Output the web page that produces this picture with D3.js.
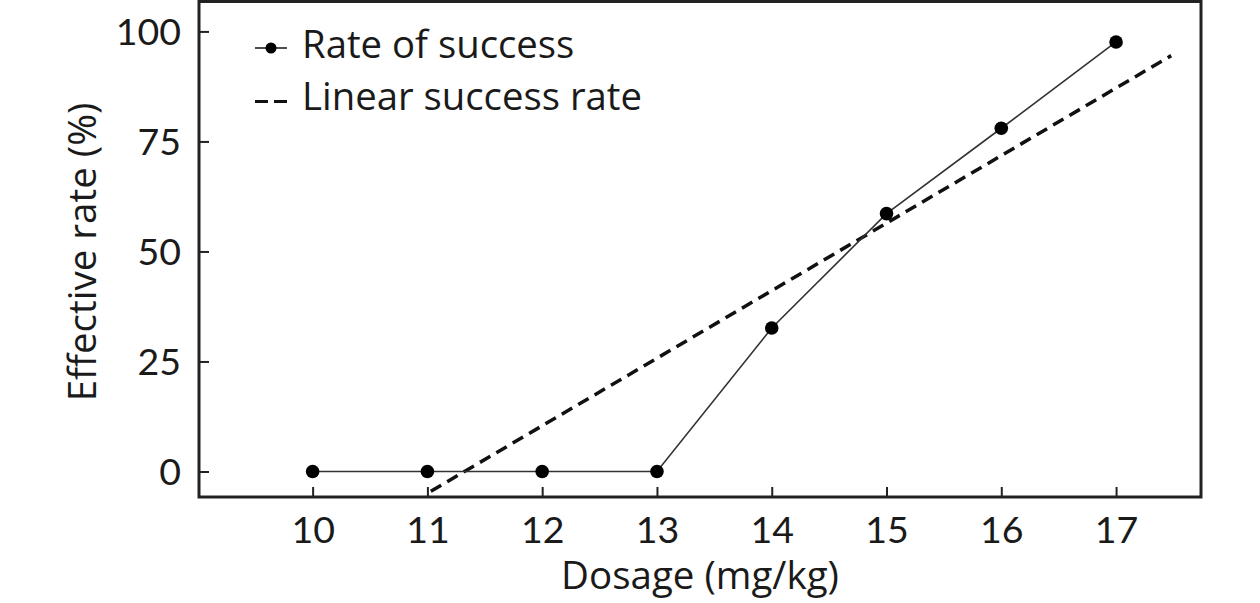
<!DOCTYPE html>
<html>
<head>
<meta charset="utf-8">
<script src="https://cdn.jsdelivr.net/npm/d3@7/dist/d3.min.js"></script>
<style>
  html, body { margin: 0; padding: 0; background: #fff; }
  svg { display: block; }
  text { font-family: "Open Sans", Lato, sans-serif; fill: #1a1a1a; }
  .tick text { font-family: Lato, "Open Sans", sans-serif; }
</style>
</head>
<body>
<svg id="chart" width="1260" height="603"></svg>
<script>
// ---- data ----
const dosage = [10, 11, 12, 13, 14, 15, 16, 17];
const successRate = [0, 0, 0, 0, 32.6, 58.6, 78.0, 97.6];
const linearDosage = [11.03, 17.48];
const linearRate = [-4.5, 94.5];
const xTicks = [10, 11, 12, 13, 14, 15, 16, 17];
const yTicks = [0, 25, 50, 75, 100];
const xDomain = [9.01, 17.74];
const yDomain = [-5.8, 106.8];
const legendLabels = ["Rate of success", "Linear success rate"];
const xTitle = "Dosage (mg/kg)";
const yTitle = "Effective rate (%)";

// ---- layout ----
const svg = d3.select("#chart");
const L = 199, R = 1201, T = 1.5, B = 497;
const x = d3.scaleLinear().domain(xDomain).range([L, R]);
const y = d3.scaleLinear().domain(yDomain).range([B, T]);
const ink = "#222";

// x axis
const xAxis = svg.append("g").attr("transform", `translate(0,${B})`)
  .call(d3.axisBottom(x).tickValues(xTicks).tickSize(-10).tickFormat(d3.format("d")));
xAxis.select(".domain").remove();
xAxis.selectAll(".tick line").attr("stroke", ink).attr("stroke-width", 2);
xAxis.selectAll(".tick text").attr("y", 46).attr("dy", 0)
  .style("font-size", "37.5px").attr("fill", "#1a1a1a");

// y axis
const yAxis = svg.append("g").attr("transform", `translate(${L},0)`)
  .call(d3.axisLeft(y).tickValues(yTicks).tickSize(-10).tickPadding(18).tickFormat(d3.format("d")));
yAxis.select(".domain").remove();
yAxis.selectAll(".tick line").attr("stroke", ink).attr("stroke-width", 2);
yAxis.selectAll(".tick text").attr("dy", "13.5px")
  .style("font-size", "37.5px").attr("fill", "#1a1a1a");

// frame
svg.append("rect").attr("x", L).attr("y", T).attr("width", R - L).attr("height", B - T)
  .attr("fill", "none").attr("stroke", ink).attr("stroke-width", 3);

// linear dashed line
const linData = linearDosage.map((d, i) => ({ x: d, y: linearRate[i] }));
const line = d3.line().x(d => x(d.x)).y(d => y(d.y));
svg.append("path").datum(linData).attr("d", line)
  .attr("fill", "none").attr("stroke", "#111").attr("stroke-width", 3.5)
  .attr("stroke-dasharray", "12,7");

// success line
const sData = dosage.map((d, i) => ({ x: d, y: successRate[i] }));
svg.append("path").datum(sData).attr("d", line)
  .attr("fill", "none").attr("stroke", "#333").attr("stroke-width", 1.6);
svg.selectAll("circle.pt").data(sData).enter().append("circle").attr("class", "pt")
  .attr("cx", d => x(d.x)).attr("cy", d => y(d.y)).attr("r", 6.8).attr("fill", "#000");

// legend
const lg = svg.append("g");
lg.append("line").attr("x1", 255).attr("x2", 287).attr("y1", 48).attr("y2", 48)
  .attr("stroke", "#222").attr("stroke-width", 1.6);
lg.append("circle").attr("cx", 271).attr("cy", 48).attr("r", 5.5).attr("fill", "#000");
lg.append("line").attr("x1", 255).attr("x2", 287).attr("y1", 101.5).attr("y2", 101.5)
  .attr("stroke", "#111").attr("stroke-width", 3).attr("stroke-dasharray", "13,6");
lg.selectAll("text").data(legendLabels).enter().append("text")
  .attr("x", 302).attr("y", (d, i) => 58 + i * 51.5)
  .style("font-size", "38.3px").text(d => d);

// axis titles
svg.append("text").attr("x", (L + R) / 2).attr("y", 589).attr("text-anchor", "middle")
  .style("font-size", "38.5px").text(xTitle);
svg.append("text").attr("transform", `translate(95.5,252) rotate(-90)`)
  .attr("text-anchor", "middle").style("font-size", "38.5px").text(yTitle);
</script>
</body>
</html>
